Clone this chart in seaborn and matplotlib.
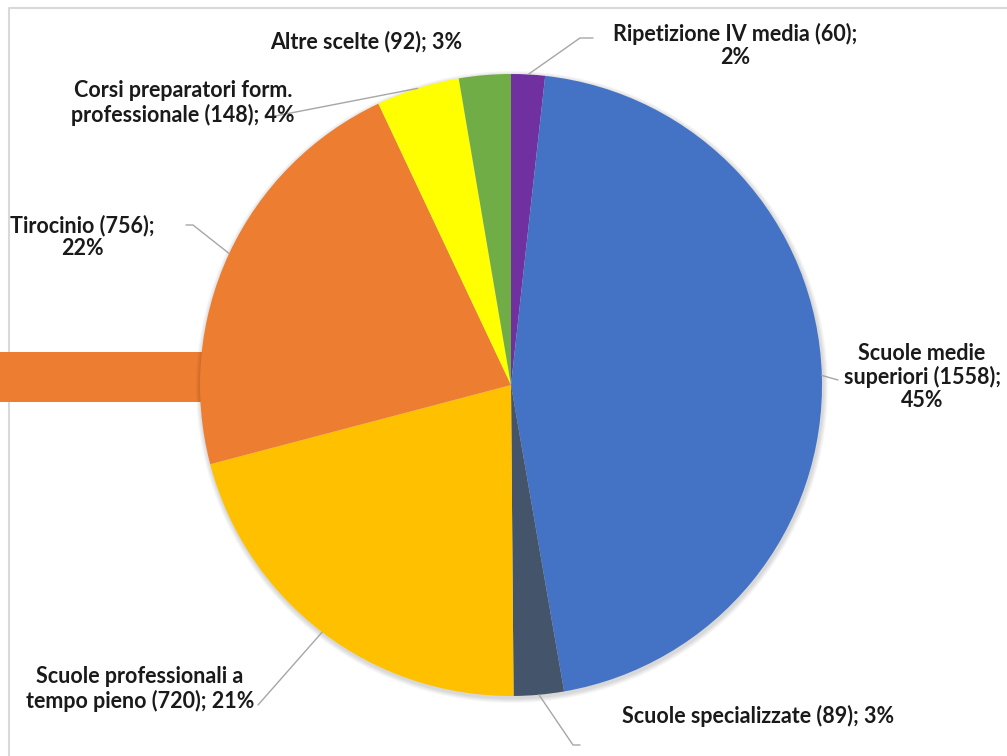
import numpy as np
import matplotlib.pyplot as plt
import seaborn as sns
from matplotlib.patches import Rectangle, Circle

categories = ["Ripetizione IV media", "Scuole medie superiori", "Scuole specializzate",
              "Scuole professionali a tempo pieno", "Tirocinio",
              "Corsi preparatori form. professionale", "Altre scelte"]
counts = [60, 1558, 89, 720, 756, 148, 92]
percents = [2, 45, 3, 21, 22, 4, 3]
label_texts = ["Ripetizione IV media (60);\n2%",
               "Scuole medie\nsuperiori (1558);\n45%",
               "Scuole specializzate (89); 3%",
               "Scuole professionali a\ntempo pieno (720); 21%",
               "Tirocinio (756);\n22%",
               "Corsi preparatori form.\nprofessionale (148); 4%",
               "Altre scelte (92); 3%"]
colors = ["#7030A0", "#4472C4", "#44546A", "#FFC000", "#ED7D31", "#FFFF00", "#70AD47"]

sns.set_theme(style="white")
plt.rcParams['font.family'] = ['Lato', 'DejaVu Sans']

W, H = 1007, 756
fig = plt.figure(figsize=(W / 100, H / 100), dpi=100)
ax = fig.add_axes([0, 0, 1, 1])

def Y(y):
    return H - y

cx, cy, r = 511, Y(385), 311
wedges, _ = ax.pie(counts, colors=colors, startangle=90, counterclock=False,
                   center=(cx, cy), radius=r, wedgeprops=dict(linewidth=0),
                   frame=True)
for w in wedges:
    w.set_zorder(3)
ax.set_xlim(0, W)
ax.set_ylim(0, H)
ax.set_aspect('equal')
ax.axis('off')

# soft shadow around the pie
for k in range(1, 6):
    ax.add_patch(Circle((cx + 1, cy - 2), r + k, color="#000000", alpha=0.03, lw=0, zorder=2))

# frame of the chart area
ax.plot([9, 9, W], [Y(H), Y(8), Y(8)], color="#D9D9D9", lw=1.5, zorder=0)
# orange bar at left
ax.add_patch(Rectangle((0, Y(402)), 215, 50, color="#ED7D31", lw=0, zorder=1))

# label positions (pixel) and leader elbow points
label_pos = [(735, 45), (922, 377), (758, 716), (140, 689), (82, 237), (183, 103), (366, 42)]
elbows = [[(580, 38), (593, 38)], [(838, 380)], [(573, 745), (580, 745)],
          [(258, 705)], [(193, 225), (186, 225)], [(265, 118)], None]

for w, txt, (lx, ly), elb in zip(wedges, label_texts, label_pos, elbows):
    ax.text(lx, Y(ly), txt, ha='center', va='center', fontsize=15.5,
            fontweight='bold', color="#1a1a1a", linespacing=1.12, zorder=5)
    if elb is None:
        continue
    theta = np.deg2rad((w.theta1 + w.theta2) / 2)
    ex, ey = cx + r * np.cos(theta), cy + r * np.sin(theta)
    xs = [ex] + [p[0] for p in elb]
    ys = [ey] + [Y(p[1]) for p in elb]
    ax.plot(xs, ys, color="#A6A6A6", lw=1, zorder=4)

fig.savefig("out.png", dpi=100, facecolor="white")
